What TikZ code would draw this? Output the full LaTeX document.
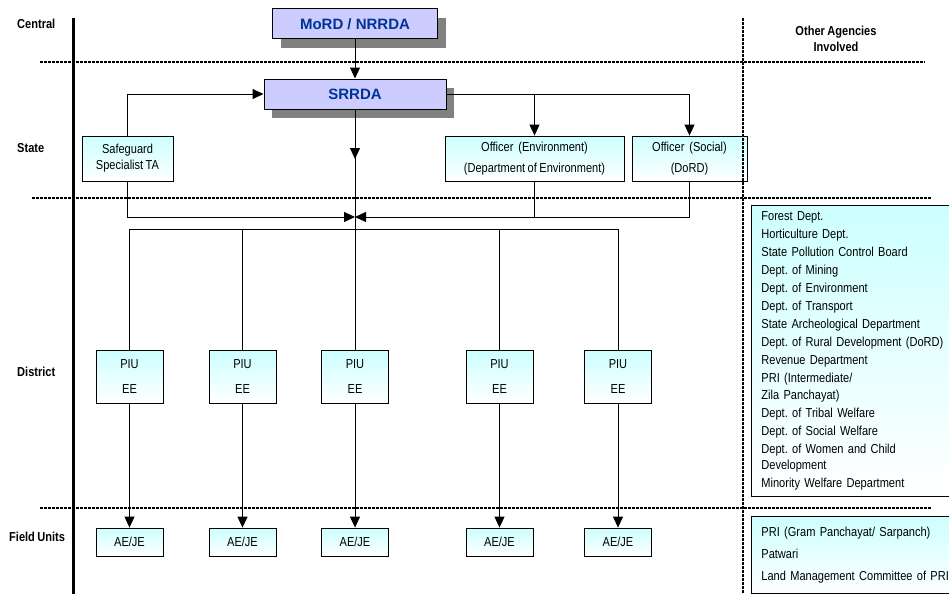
\documentclass[tikz,border=0pt]{standalone}
\usepackage{fontspec}
\setmainfont{Liberation Sans}[FakeStretch=0.85, WordSpace=0.8]
\newfontfamily\headfont{Liberation Sans}
\usetikzlibrary{arrows.meta, positioning, shadows}
\definecolor{boxblue}{RGB}{204,204,255}
\definecolor{titleblue}{RGB}{0,51,153}
\definecolor{lightcyan}{RGB}{204,255,255}
\frenchspacing

\begin{document}
\begin{tikzpicture}[
    x=1pt, y=-1pt,
    font=\fontsize{13}{16}\selectfont,
    level/.style={font=\fontsize{13}{16}\selectfont\bfseries, anchor=west, inner sep=0pt},
    headbox/.style={draw, line width=1pt, fill=boxblue, text=titleblue,
        font=\headfont\fontsize{15}{18}\selectfont\bfseries,
        drop shadow={shadow xshift=8pt, shadow yshift=-9pt, fill=gray, opacity=1},
        minimum height=30pt, inner sep=0pt},
    unitbox/.style={draw, line width=0.8pt, top color=lightcyan, bottom color=white,
        align=center, inner sep=0pt},
    listbox/.style={unitbox, anchor=north west, align=left, text width=190pt,
        inner xsep=10pt, font=\fontsize{13}{16.5}\selectfont},
    divider/.style={line width=2pt, dash pattern=on 3pt off 1pt},
    link/.style={line width=1pt},
    arr/.style={link, -{Triangle[length=11pt, width=10pt]}}]
    \useasboundingbox (0,0) rectangle (949,594);
    % levels
    \draw[divider] (40,62) -- (925,62);
    \draw[divider] (32,198) -- (932,198);
    \draw[divider] (40,508) -- (932,508);
    \draw[line width=3pt] (73,18) -- (73,594);
    \node[level] (central) at (17,24) {Central};
    \node[level] (state) at (17,148) {State};
    \node[level] (district) at (17,372) {District};
    \node[level] (field) at (9,537) {Field Units};
    \node[level, anchor=center, align=center] (other) at (836,39) {Other Agencies\\Involved};
    % central and state
    \node[headbox, minimum width=165pt] (mord) at (355,24) {MoRD / NRRDA};
    \node[headbox, minimum width=182pt] (srrda) at (355,94) {SRRDA};
    \node[unitbox, minimum width=91pt, minimum height=45pt] (safe) at (127.5,158.5)
        {Safeguard\\Specialist TA};
    \node[unitbox, minimum width=179pt, minimum height=45pt] (offenv) at (534.5,158.5)
        {Officer\ \ (Environment)\\[5pt](Department of Environment)};
    \node[unitbox, minimum width=115pt, minimum height=45pt] (offsoc) at (689.5,158.5)
        {Officer\ \ (Social)\\[5pt](DoRD)};
    \coordinate (stop) at (355,159);
    \coordinate (join) at (355,217);
    \coordinate (bus) at (0,229);
    \draw[arr] (mord) -- (srrda);
    \draw[arr] (safe.north) |- (srrda.west);
    \draw[arr] (srrda.east) -| (offsoc.north);
    \draw[arr] (offenv.north |- srrda.east) -- (offenv.north);
    \draw[arr] (srrda.south) -- (stop);
    \draw[arr] (safe.south) |- (join);
    \draw[arr] (offsoc.south) |- (join);
    \draw[link] (offenv.south) -- (offenv.south |- join);
    % district and field units
    \foreach \i/\x in {1/129.5, 2/242.5, 3/355, 4/499.5, 5/618} {
        \node[unitbox, minimum width=67pt, minimum height=53pt] (piu\i) at (\x,376.5)
            {PIU\\[9pt]EE};
        \node[unitbox, minimum width=67pt, minimum height=28pt] (ae\i) at (\x,542) {AE/JE};
        \draw[arr] (piu\i) -- (ae\i);
    }
    \draw[link] (srrda.south) -- (piu3.north);
    \draw[link] (piu1.north) |- (bus -| piu5.north) -- (piu5.north);
    \foreach \i in {2,4}
        \draw[link] (piu\i.north) -- (piu\i.north |- bus);
    % other agencies
    \node[listbox, minimum height=291pt] (agencies) at (751,205) {Forest Dept.\\[1.5pt]
        Horticulture Dept.\\[1.5pt]
        State Pollution Control Board\\[1.5pt]
        Dept. of Mining\\[1.5pt]
        Dept. of Environment\\[1.5pt]
        Dept. of Transport\\[1.5pt]
        State Archeological Department\\[1.5pt]
        Dept. of Rural Development (DoRD)\\[1.5pt]
        Revenue Department\\[1.5pt]
        PRI (Intermediate/\\
        Zila Panchayat)\\[1.5pt]
        Dept. of Tribal Welfare\\[1.5pt]
        Dept. of Social Welfare\\[1.5pt]
        Dept. of Women and Child\\
        Development\\[1.5pt]
        Minority Welfare Department};
    \node[listbox, minimum height=77pt] (local) at (751,516) {PRI (Gram Panchayat/ Sarpanch)\\[5.5pt]
        Patwari\\[5.5pt]
        Land Management Committee of PRI};
    \draw[divider] (743,18) -- (743,594);
\end{tikzpicture}
\end{document}
